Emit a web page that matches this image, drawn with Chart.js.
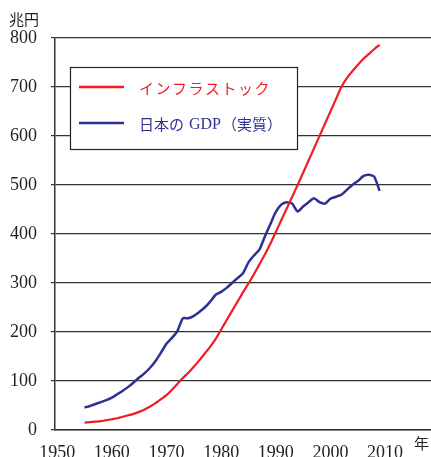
<!DOCTYPE html>
<html>
<head>
<meta charset="utf-8">
<script src="https://cdn.jsdelivr.net/npm/chart.js@4"></script>
<style>
  html, body { margin: 0; padding: 0; background: #fff; }
  #wrap { width: 431px; height: 457px; }
</style>
</head>
<body>
<div id="wrap"><canvas id="c" width="431" height="457"></canvas></div>
<script>
// Data
const YEARS = Array.from({ length: 55 }, (_, i) => 1955 + i); // 1955 .. 2009
const INFRA = [15, 16, 17, 18, 20, 22, 24, 27, 30, 33,
               37, 42, 48, 55, 63, 71, 82, 94, 106, 117,
               129, 142, 156, 170, 186, 205, 224, 243, 262, 281,
               299, 318, 338, 358, 380, 404, 428, 452, 476, 500,
               525, 550, 575, 600, 625, 650, 675, 700, 718, 732,
               745, 757, 767, 777, 786];
const GDP = [46, 49, 53, 57, 61, 66, 73, 80, 88, 97,
             107, 116, 127, 141, 158, 176, 188, 202, 228, 228,
             233, 241, 250, 262, 276, 282, 290, 300, 310, 320,
             342, 356, 368, 395, 420, 445, 460, 465, 462, 446,
             456, 465, 473, 465, 462, 472, 476, 480, 490, 500,
             508, 518, 521, 517, 488];
const X_TICKS = [1950, 1960, 1970, 1980, 1990, 2000, 2010];
const Y_TICKS = [0, 100, 200, 300, 400, 500, 600, 700, 800];
const LABEL_INFRA = 'インフラストック';
const LABEL_GDP = '日本の GDP（実質）';

const RED = '#ee1d23';
const BLUE = '#2e3192';
const INK = '#231f20';
const SERIF = '"Liberation Serif", "DejaVu Serif", serif';
const CJK = '"Noto Sans CJK JP", "Noto Sans", sans-serif';

const toPoints = (vals) => vals.map((v, i) => ({ x: YEARS[i], y: v }));

// Legend box, axis unit labels
const decorations = {
    id: 'decorations',
    afterDraw(chart) {
        const ctx = chart.ctx;
        ctx.save();
        // legend
        ctx.fillStyle = '#fff';
        ctx.fillRect(70.5, 67.5, 227, 82);
        ctx.strokeStyle = '#222';
        ctx.lineWidth = 1.2;
        ctx.strokeRect(70.5, 67.5, 227, 82);

        ctx.lineWidth = 2.5;
        ctx.strokeStyle = RED;
        ctx.beginPath(); ctx.moveTo(79, 87); ctx.lineTo(124, 87); ctx.stroke();
        ctx.strokeStyle = BLUE;
        ctx.beginPath(); ctx.moveTo(79, 123); ctx.lineTo(124, 123); ctx.stroke();

        ctx.textBaseline = 'middle';
        ctx.textAlign = 'left';
        ctx.font = '15px ' + CJK;
        ctx.fillStyle = RED;
        if ('letterSpacing' in ctx) ctx.letterSpacing = '1.5px';
        ctx.fillText(LABEL_INFRA, 139, 88);
        ctx.letterSpacing = '0px';
        ctx.fillStyle = BLUE;
        ctx.fillText('日本の', 139, 124);
        ctx.font = '16px ' + SERIF;
        ctx.fillText('GDP', 189, 125);
        ctx.font = '15px ' + CJK;
        ctx.fillText('（実質）', 222, 124);

        // unit labels
        ctx.fillStyle = INK;
        ctx.font = '15px ' + CJK;
        ctx.fillText('兆円', 9, 19);
        ctx.fillText('年', 414, 443);
        ctx.restore();
    }
};

new Chart(document.getElementById('c'), {
    type: 'line',
    data: {
        datasets: [
            {
                label: LABEL_INFRA,
                data: toPoints(INFRA),
                borderColor: RED,
                borderWidth: 2.2,
                pointRadius: 0,
                tension: 0.3,
                fill: false
            },
            {
                label: LABEL_GDP,
                data: toPoints(GDP),
                borderColor: BLUE,
                borderWidth: 2.5,
                pointRadius: 0,
                tension: 0.2,
                fill: false
            }
        ]
    },
    options: {
        responsive: false,
        animation: false,
        layout: { padding: { top: 38, right: 0, left: 0, bottom: 0 } },
        plugins: {
            legend: { display: false },
            tooltip: { enabled: false }
        },
        scales: {
            x: {
                type: 'linear',
                min: 1949.6,
                max: 2018.4,
                afterBuildTicks: (s) => { s.ticks = X_TICKS.map(v => ({ value: v })); },
                afterFit: (s) => { s.height = 27; },
                grid: { display: false },
                border: { display: true, color: '#333', width: 1.5 },
                ticks: {
                    color: INK,
                    font: { family: SERIF, size: 18 },
                    padding: 4,
                    maxRotation: 0,
                    autoSkip: false,
                    callback: (v) => String(v)
                }
            },
            y: {
                min: 0,
                max: 800,
                afterBuildTicks: (s) => { s.ticks = Y_TICKS.map(v => ({ value: v })); },
                afterFit: (s) => { s.width = 55; },
                grid: {
                    color: '#333',
                    lineWidth: 1.2,
                    drawTicks: true,
                    tickLength: 4,
                    tickColor: '#333'
                },
                border: { display: true, color: '#333', width: 1.5 },
                ticks: {
                    color: INK,
                    font: { family: SERIF, size: 18 },
                    padding: 14
                }
            }
        }
    },
    plugins: [decorations]
});
</script>
</body>
</html>
